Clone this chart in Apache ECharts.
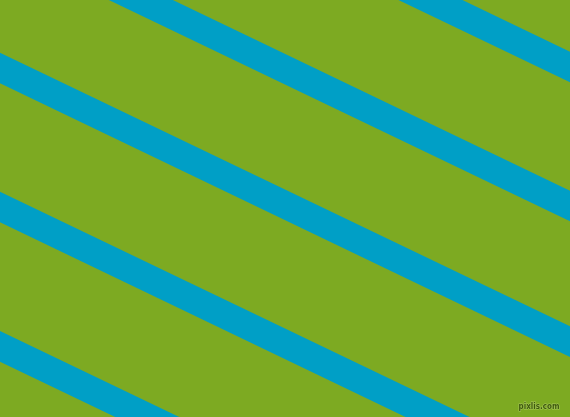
<!DOCTYPE html>
<html>
<head>
<meta charset="utf-8">
<script src="https://cdn.jsdelivr.net/npm/echarts@6/dist/echarts.min.js"></script>
<style>
html,body{margin:0;padding:0;background:#7DAA22;}
#chart{width:570px;height:417px;}
</style>
</head>
<body>
<div id="chart"></div>
<script>
// Stripe centre-line y values just beyond the left edge (x = -60) and right edge (x = 630)
const stripeNames = ['s0', 's1', 's2', 's3', 's4'];
const stripeLeftY = [-235.4, -96.4, 39.2, 178.2, 317.5];
const stripeRightY = [95.8, 234.8, 370.4, 509.4, 648.8];
const edgeX = [-60, 630];
const watermark = 'pixlis.com';

const chart = echarts.init(document.getElementById('chart'), null, {renderer: 'canvas'});
const series = stripeNames.map((name, i) => ({
  name: name,
  type: 'line',
  data: [[edgeX[0], stripeLeftY[i]], [edgeX[1], stripeRightY[i]]],
  showSymbol: false,
  symbol: 'none',
  silent: true,
  clip: true,
  animation: false,
  lineStyle: {color: '#009FC6', width: 27.7, cap: 'butt'}
}));

chart.setOption({
  backgroundColor: '#7DAA22',
  animation: false,
  grid: {left: 0, right: 0, top: 0, bottom: 0, containLabel: false},
  xAxis: {type: 'value', min: 0, max: 570, show: false},
  yAxis: {type: 'value', min: 0, max: 417, inverse: true, show: false},
  graphic: [{
    type: 'text',
    right: 10,
    bottom: 6,
    z: 100,
    style: {
      text: watermark,
      fill: '#3E5A0E',
      stroke: '#A8C85A',
      lineWidth: 1,
      font: 'bold 8px "DejaVu Sans Condensed", sans-serif'
    }
  }],
  series: series
});
</script>
</body>
</html>
